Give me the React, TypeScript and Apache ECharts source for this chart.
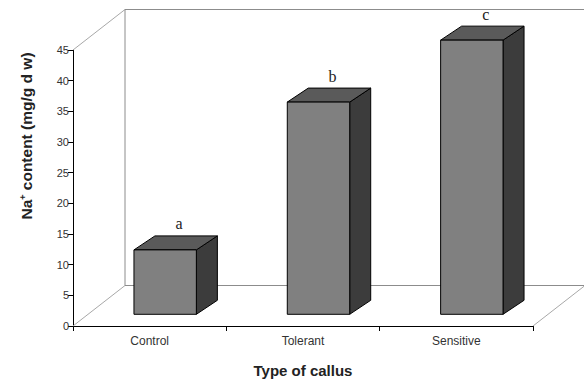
import React, { useEffect, useRef } from "react";
import * as echarts from "echarts";

const categories = ["Control", "Tolerant", "Sensitive"];
const values = [10.5, 34.6, 44.7];
const letters = ["a", "b", "c"];
const yMin = 0;
const yMax = 45;
const yInterval = 5;
const yTitleMain = "Na";
const yTitleSup = "+";
const yTitleRest = " content (mg/g d w)";
const xTitle = "Type of callus";

export default function App() {
  const ref = useRef<HTMLDivElement>(null);
  useEffect(() => {
    const chart = echarts.init(ref.current as HTMLDivElement, null, { renderer: "svg" });
    const WALL_DX = 52, WALL_DY = -40.5;
    const BAR_DX = 15.5, BAR_DY = -11.7;
    const TOP_DX = 21, TOP_DY = -14;
    const sans = "'Liberation Sans', Arial, sans-serif";
    const option: any = {
      animation: false,
      textStyle: { fontFamily: sans },
      grid: { left: 73, right: 51, top: 50, bottom: 52 },
      xAxis: {
        type: "category",
        data: categories,
        boundaryGap: true,
        axisLine: { lineStyle: { color: "#000", width: 1 } },
        axisTick: { show: true, length: 5, alignWithLabel: false, lineStyle: { color: "#000" } },
        axisLabel: { color: "#333", fontSize: 12, margin: 9, fontFamily: sans },
        splitLine: { show: false },
        name: xTitle,
        nameLocation: "middle",
        nameGap: 37,
        nameTextStyle: { fontWeight: "bold", fontSize: 15, color: "#222", fontFamily: sans },
      },
      yAxis: {
        type: "value",
        min: yMin,
        max: yMax,
        interval: yInterval,
        axisLine: { show: true, lineStyle: { color: "#000" } },
        axisTick: { show: true, length: 5, lineStyle: { color: "#000" } },
        axisLabel: { color: "#333", fontSize: 11, margin: 4, fontFamily: "'Liberation Sans Narrow', " + sans },
        splitLine: { show: false },
      },
      graphic: [
        {
          type: "text",
          x: 26,
          y: 136,
          rotation: Math.PI / 2,
          style: {
            text: "{a|" + yTitleMain + "}{s|" + yTitleSup + "}{a|" + yTitleRest + "}",
            align: "center",
            verticalAlign: "middle",
            rich: {
              a: { fontSize: 15.5, fontWeight: "bold", fontFamily: sans, fill: "#222" },
              s: { fontSize: 9, fontWeight: "bold", fontFamily: sans, fill: "#222", verticalAlign: "top" },
            },
          },
        },
      ],
      series: [
        {
          type: "custom",
          silent: true,
          z: 1,
          data: [[0, 0]],
          renderItem: (params: any) => {
            const cs = params.coordSys;
            const x0 = cs.x, x1 = cs.x + cs.width, yt = cs.y, yb = cs.y + cs.height;
            const back = { stroke: "#8c8c8c", lineWidth: 1 };
            const diag = { stroke: "#a8a8a8", lineWidth: 1 };
            const ln = (a: number, b: number, c: number, d: number, st: any) => ({
              type: "line",
              shape: { x1: a, y1: b, x2: c, y2: d },
              style: st,
            });
            return {
              type: "group",
              children: [
                ln(x0, yt, x0 + WALL_DX, yt + WALL_DY, diag),
                ln(x0, yb, x0 + WALL_DX, yb + WALL_DY, diag),
                ln(x1, yb, x1 + WALL_DX, yb + WALL_DY, diag),
                ln(x0 + WALL_DX, yt + WALL_DY, x0 + WALL_DX, yb + WALL_DY, back),
                ln(x0 + WALL_DX, yt + WALL_DY, x1 + WALL_DX, yt + WALL_DY, back),
                ln(x0 + WALL_DX, yb + WALL_DY, x1 + WALL_DX, yb + WALL_DY, back),
                ln(x1 + WALL_DX, yt + WALL_DY, x1 + WALL_DX, yb + WALL_DY, back),
              ],
            };
          },
        },
        {
          type: "custom",
          z: 5,
          data: values.map((v, i) => [i, v]),
          encode: { x: 0, y: 1 },
          renderItem: (params: any, api: any) => {
            const idx = api.value(0);
            const v = api.value(1);
            const top = api.coord([idx, v]);
            const base = api.coord([idx, 0]);
            const bw = api.size([1, 0])[0];
            const half = bw * 0.2035;
            const cx = top[0] + BAR_DX;
            const fl = cx - half, fr = cx + half;
            const ft = top[1] + BAR_DY, fb = base[1] + BAR_DY;
            const edge = { stroke: "#000", lineWidth: 1 };
            return {
              type: "group",
              children: [
                {
                  type: "polygon",
                  shape: { points: [[fr, ft], [fr + TOP_DX, ft + TOP_DY], [fr + TOP_DX, fb + TOP_DY], [fr, fb]] },
                  style: { fill: "#3c3c3c", ...edge },
                },
                {
                  type: "polygon",
                  shape: { points: [[fl, ft], [fr, ft], [fr + TOP_DX, ft + TOP_DY], [fl + TOP_DX, ft + TOP_DY]] },
                  style: { fill: "#5a5a5a", ...edge },
                },
                {
                  type: "rect",
                  shape: { x: fl, y: ft, width: fr - fl, height: fb - ft },
                  style: { fill: "#808080", ...edge },
                },
                {
                  type: "text",
                  x: cx + TOP_DX / 2 + 3.5,
                  y: ft + TOP_DY - 12,
                  style: {
                    text: letters[params.dataIndex],
                    align: "center",
                    verticalAlign: "middle",
                    fontSize: 16,
                    fontFamily: "'Liberation Serif', 'Times New Roman', serif",
                    fill: "#222",
                  },
                },
              ],
            };
          },
        },
      ],
    };
    chart.setOption(option);
    return () => chart.dispose();
  }, []);
  return (
    <div
      ref={ref}
      style={{ position: "fixed", left: 0, top: 0, width: 584, height: 383, background: "#fff" }}
    />
  );
}
